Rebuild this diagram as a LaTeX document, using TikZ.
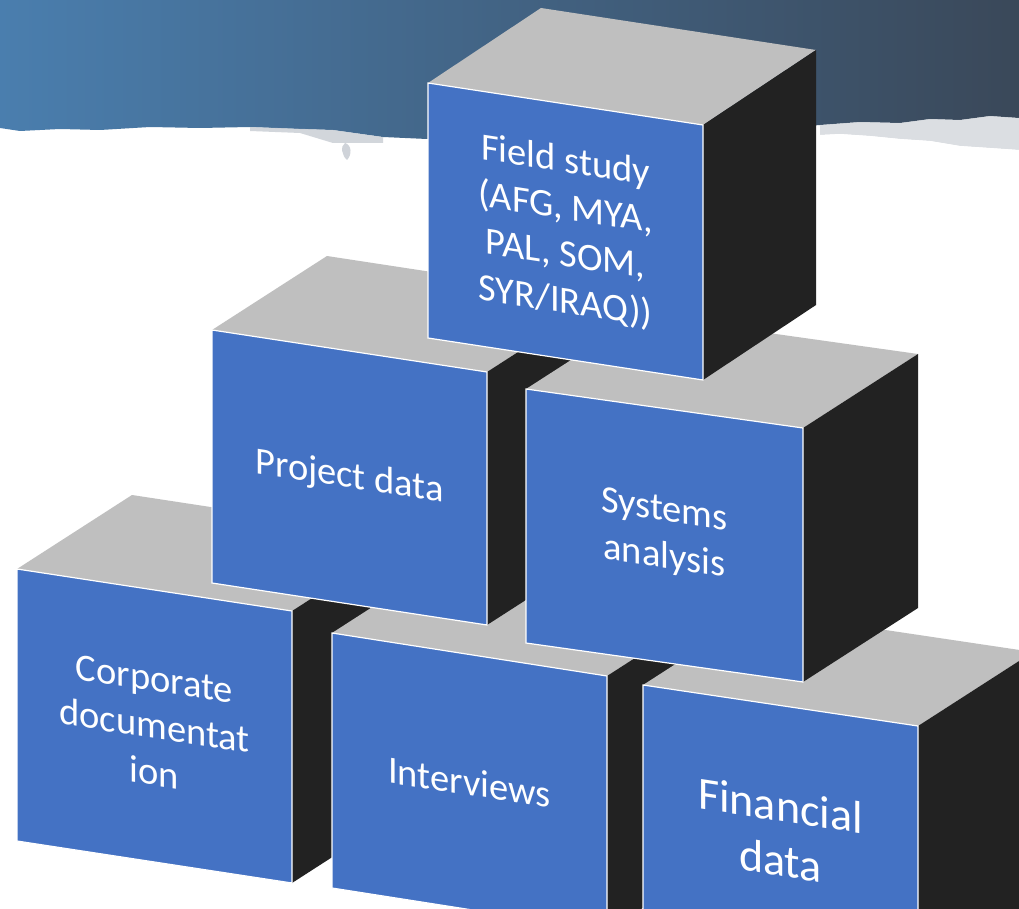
\documentclass[tikz,border=0pt]{standalone}
\usepackage{fontspec}
\setmainfont{Carlito}
\definecolor{cfront}{HTML}{4472C4}
\definecolor{ctop}{HTML}{BFBFBF}
\definecolor{cside}{HTML}{222222}
\definecolor{skyL}{HTML}{4A7EAE}
\definecolor{skyR}{HTML}{3A4859}
\definecolor{edgegray}{HTML}{C3C9D0}
% #1 TLx #2 TLy #3 TRx #4 TRy #5 height #6 dx #7 dy
\newcommand\mycube[7]{%
  \fill[cubetop] (#1,#2) -- (#3,#4) -- ++(#6,#7) -- ({#1+#6},{#2+#7}) -- cycle;
  \fill[cubeside] (#3,#4) -- ++(#6,#7) -- ++(0,#5) -- (#3,{#4+#5}) -- cycle;
  \filldraw[cubefront] (#1,#2) -- (#3,#4) -- (#3,{#4+#5}) -- (#1,{#2+#5}) -- cycle;
}
\begin{document}
\begin{tikzpicture}[x=1pt,y=-1pt,
  cubetop/.style={fill=ctop},
  cubeside/.style={fill=cside},
  cubefront/.style={fill=cfront,draw=white,line width=1.2pt,line join=miter},
  facetext/.style={text=white,align=center,inner sep=0pt,
    font=\fontsize{38.5}{47}\selectfont,yslant=-0.153,transform shape},
  bigtext/.style={facetext,font=\fontsize{46}{55}\selectfont}]
\useasboundingbox (0,0) rectangle (1019,909);
\clip (0,0) rectangle (1019,909);
\fill[white] (0,0) rectangle (1019,909);
% sky band with ragged lower edge
\shade[left color=skyL,right color=skyR]
  (0,0) -- (1019,0) -- (1019,118) -- (990,116) -- (960,120) -- (930,119)
  -- (900,123) -- (860,122) -- (820,125) -- (700,135)
  -- (427,139) -- (383,137) -- (333,130) -- (300,129) -- (250,127)
  -- (200,128) -- (150,127) -- (100,130) -- (60,129) -- (20,131) -- (0,128) -- cycle;
% light speckled edge zones
\fill[edgegray,opacity=0.75] (250,127) -- (333,130) -- (383,137) -- (383,143)
  -- (333,143) -- (300,133) -- (250,131) -- cycle;
\fill[edgegray,opacity=0.8] (345,143) .. controls (352,145) and (352,155) .. (347,160)
  .. controls (342,156) and (340,146) .. (345,143) -- cycle;
\fill[edgegray,opacity=0.6] (820,125) -- (860,122) -- (900,123) -- (930,119)
  -- (960,120) -- (990,116) -- (1019,118) -- (1019,150) -- (990,148) -- (960,146)
  -- (930,141) -- (900,139) -- (870,136) -- (840,134) -- (820,135) -- cycle;
\fill[white] (820,135) -- (840,134) -- (870,136) -- (900,139) -- (930,141)
  -- (960,146) -- (990,148) -- (1019,150) -- (1019,200) -- (820,200) -- cycle;
% cubes, back to front
\mycube{17}{569}{292}{611}{272}{115}{-74}
\mycube{332}{633}{607}{676}{255}{115}{-74}
\mycube{643}{685}{918}{726}{255}{115}{-74}
\mycube{212}{330}{487}{372}{253}{115}{-74}
\mycube{526}{389}{803}{428}{254}{115}{-74}
\mycube{428}{83}{703}{125}{255}{113}{-75}
% labels
\node[facetext] (corp) at (154.5,726) {Corporate\\documentat\\ion};
\node[facetext] (intv) at (469.5,782) {Interviews};
\node[bigtext] (fin) at (780.5,833) {Financial\\data};
\node[facetext] (proj) at (349.5,477.5) {Project data};
\node[facetext] (sys) at (664.5,535) {Systems\\analysis};
\node[facetext] (field) at (565.5,232) {Field study\\(AFG, MYA,\\PAL, SOM,\\SYR/IRAQ))};
\end{tikzpicture}
\end{document}
